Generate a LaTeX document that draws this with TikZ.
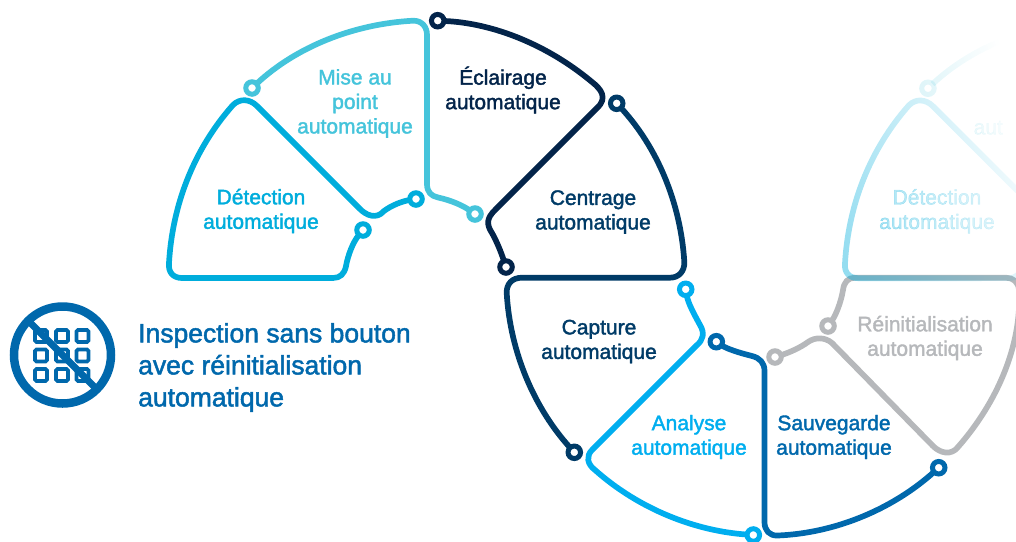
\documentclass[tikz,border=0pt]{standalone}
\usepackage{fontspec}
\setmainfont[FakeBold=1.8]{Liberation Sans}
\usetikzlibrary{fadings}

\definecolor{detect}{HTML}{00ADDC}
\definecolor{focus}{HTML}{45C4DB}
\definecolor{light}{HTML}{03244A}
\definecolor{centre}{HTML}{003B67}
\definecolor{scan}{HTML}{00AEEF}
\definecolor{save}{HTML}{0068AC}
\definecolor{reset}{HTML}{B6B8BB}

\tikzset{
    dot/.style={circle, draw=#1, fill=white, line width=5pt, minimum size=12.5pt, inner sep=0pt, outer sep=0pt},
    wire/.style={draw=#1, line width=5.7pt, line join=round},
    lbl/.style={text=#1, align=center, font=\fontsize{21}{24.5}\selectfont},
}

\tikzfading[name=fadeside, left color=transparent!58, right color=transparent!100]

% the two curves that come back faded on the right
\newcommand{\detectwire}{%
    \node[dot=detect] (d0) at (363,230) {};
    \node[dot=detect] (d1) at (416,199) {};
    \draw[wire=detect] (d0) .. controls (353,242) and (348,255) .. (346,266)
        .. controls (344.5,274) and (340,278) .. (333,278) -- (182,278)
        .. controls (173,278) and (168,272) .. (169,263)
        .. controls (172.4,204.5) and (194,149) .. (233,105)
        .. controls (240,98) and (250,99) .. (257,106) -- (360,209)
        .. controls (366,215) and (376,220) .. (384,211)
        .. controls (392,205) and (403,201) .. (d1);
    \node[lbl=detect] (t0) at (261,211) {Détection\\automatique};
}
\newcommand{\focuswire}{%
    \node[dot=focus] (m0) at (252,88) {};
    \node[dot=focus] (m1) at (475,214) {};
    \draw[wire=focus] (m0) .. controls (296,47) and (353,24) .. (413,20.7)
        .. controls (422,20.5) and (427,27) .. (427,35) -- (427,184)
        .. controls (427,192) and (431,196) .. (438,197.5)
        .. controls (450,200) and (462,205) .. (m1);
}

\begin{document}
\begin{tikzpicture}[x=1pt, y=-1pt]
    \useasboundingbox (0,0) rectangle (1016,541);

    % grey curve first, the faded blue one lies over it
    \node[dot=reset] (r0) at (775,357) {};
    \node[dot=reset] (r1) at (828,326) {};
    \draw[wire=reset] (r0) .. controls (788,353) and (800,348) .. (808,342)
        .. controls (815,337) and (825,337) .. (832,343) -- (933,446)
        .. controls (940,453) and (951,456) .. (958,447)
        .. controls (996.6,403) and (1022,346) .. (1019,290)
        .. controls (1018.5,282) and (1013,277.7) .. (1006,277.7) -- (855,277.7)
        .. controls (848,277.7) and (844,282) .. (843,290)
        .. controls (841,302) and (836,315) .. (r1);
    \node[lbl=reset] (t8) at (925,338) {Réinitialisation\\automatique};

    \begin{scope}
        \clip (800,0) rectangle (1016,541);
        \path[scope fading=fadeside, fit fading=false,
            fading transform={shift={(940,200)}, rotate=20, xscale=4.4, yscale=8}] (800,0) rectangle (1016,541);
        \begin{scope}[xshift=676, name prefix=f-]
            \detectwire
            \focuswire
        \end{scope}
        \node[lbl=focus, anchor=west, inner sep=0pt] (t9) at (973.5,127.5) {aut};
    \end{scope}

    \detectwire
    \focuswire
    \node[lbl=focus] (t1) at (355,103.5) {Mise au\\point\\automatique};

    % dark curve on top
    \node[dot=light] (e0) at (437.7,20.7) {};
    \node[dot=light] (e1) at (506,267) {};
    \draw[wire=light] (e0) .. controls (494,23) and (548.5,45.6) .. (592,82)
        .. controls (601,89) and (608,98) .. (597,108) -- (495,210)
        .. controls (487,218) and (486,224) .. (492,233)
        .. controls (497,242) and (501,252) .. (e1);
    \node[lbl=light] (t2) at (503,90) {Éclairage\\automatique};

    \node[dot=centre] (c0) at (616.7,103.3) {};
    \node[dot=centre] (c1) at (574.3,452.3) {};
    \draw[wire=centre] (c0) .. controls (657,146.8) and (680.6,202.6) .. (684.3,261.7)
        .. controls (684.8,271) and (679,277.7) .. (670,277.7) -- (522,277.7)
        .. controls (512,277.7) and (506.4,284) .. (506.7,293)
        .. controls (510.1,352.2) and (534.4,408.4) .. (c1);
    \node[lbl=centre] (t3) at (593,212) {Centrage\\automatique};
    \node[lbl=centre] (t4) at (599,341.5) {Capture\\automatique};

    \node[dot=scan] (a0) at (685.7,289.3) {};
    \node[dot=scan] (a1) at (753.3,535) {};
    \draw[wire=scan] (a0) .. controls (688,303) and (694,314) .. (700,325)
        .. controls (705,333) and (703,340) .. (697,345) -- (592,450)
        .. controls (586,456) and (587,464) .. (595,470)
        .. controls (638.7,508.9) and (694.9,531) .. (a1);
    \node[lbl=scan] (t5) at (689,437) {Analyse\\automatique};

    \node[dot=save] (s0) at (716.3,341.7) {};
    \node[dot=save] (s1) at (938.7,467.7) {};
    \draw[wire=save] (s0) .. controls (727,349) and (740,353) .. (752,356)
        .. controls (760,358) and (764.5,363) .. (764.5,371) -- (764.5,522)
        .. controls (764.5,530) and (769,536) .. (778,535.5)
        .. controls (837,533) and (894,508) .. (s1);
    \node[lbl=save] (t6) at (834,437) {Sauvegarde\\automatique};

    % icon
    \node[circle, draw=save, line width=8.5pt, minimum size=97pt, inner sep=0pt, outer sep=0pt] (i0) at (62.5,355) {};
    \foreach \row [count=\r] in {336,355.5,375}
        \foreach \col [count=\c] in {41,62,82.5}
            \node[draw=save, line width=3.6pt, rounded corners=1.5pt, minimum size=12pt, inner sep=0pt] (k\r\c) at (\col,\row) {};
    \draw[save, line width=7pt] (i0.135) -- (i0.-45);

    \node[text=save, align=left, anchor=north west, inner sep=0pt, font=\fontsize{26.5}{32}\selectfont] (t7) at (138,323)
        {Inspection sans bouton\\avec réinitialisation\\automatique};
\end{tikzpicture}
\end{document}
